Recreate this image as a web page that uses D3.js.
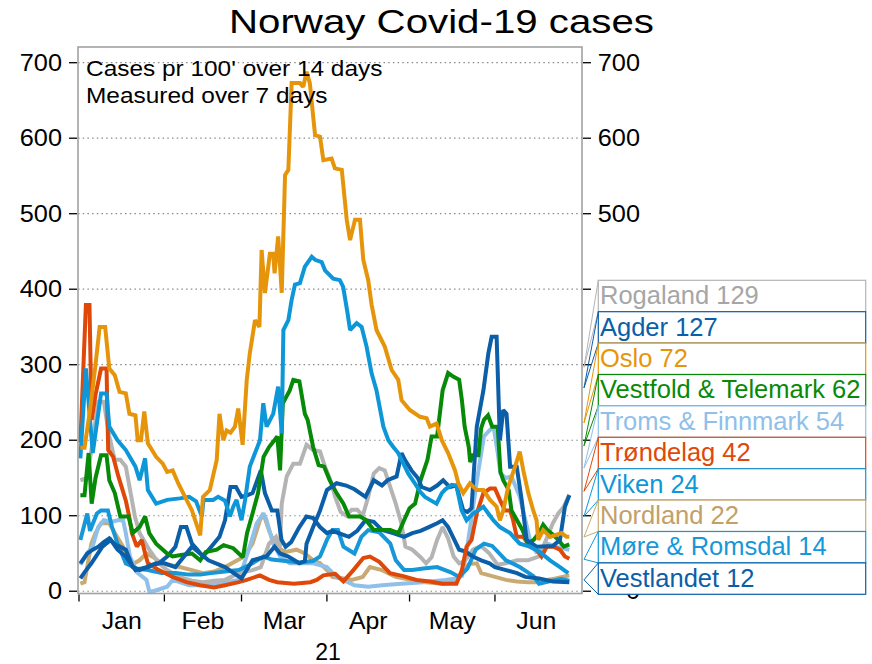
<!DOCTYPE html>
<html>
<head>
<meta charset="utf-8">
<script src="https://cdn.jsdelivr.net/npm/d3@7"></script>
<style>
  html, body { margin: 0; padding: 0; background: #fff; }
  svg { display: block; font-family: "Liberation Sans", Arial, sans-serif; }
</style>
</head>
<body>
<svg id="chart" width="872" height="664"></svg>
<script>
// ---- DATA: [day of 2021 (0 = 1 Jan), cases per 100k over 14 days] ----
const rogaland = [[0.5,147],[3,150],[5,200],[7,251],[9,251],[11,205],[13,174],[15,174],[17,165],[19,125],[20.3,99],[22,77],[25.5,55],[29,37],[32,28],[36.5,19],[41,14],[45,12],[49,14],[53,15],[58,24],[63,28],[66,32],[69,63],[71.5,72],[72.9,57],[73.6,116],[75.4,152],[77.8,169],[80.2,169],[82.6,194],[85,187],[87.5,185],[89.3,165],[91,150],[93,125],[95,105],[97,100],[99,108],[101,108],[103,100],[105,125],[107,156],[109,163],[111,160],[113,138],[115,116],[117,90],[118.5,59],[121,55],[124,45],[126,37],[128,45],[130,68],[132,85],[134,70],[136,46],[138,37],[140,40],[143,55],[146,60],[149,50],[152,35],[155,37],[159,41],[163,41],[167,46],[170,72],[172,90],[174,103],[176,112],[178,128]];
const agder = [[0.5,17],[2,25],[4.5,37],[8.5,59],[11.5,68],[14,55],[17,46],[20.5,28],[24.5,32],[28,37],[31,37],[35,32],[41,59],[47,41],[53,32],[59,17],[63,41],[68,46],[71,59],[73,50],[76,46],[80,37],[82,40],[82.6,63],[85,85],[87.5,107],[90,134],[93.5,143],[97,140],[100,135],[104,125],[107,147],[110,140],[112,147],[115.3,152],[117.1,183],[118.3,174],[120.7,160],[123,150],[124.4,138],[127.4,134],[130,140],[132.2,147],[134.6,138],[137,140],[139.5,107],[141,105],[142.5,110],[144.4,218],[146.8,266],[148.6,315],[149.8,337],[151.6,337],[152.8,200],[154,240],[155.2,235],[156.5,165],[158.9,165],[160.7,121],[162.5,68],[166.1,59],[172,60],[174.6,68],[176.4,112],[178,127]];
const oslo = [[0.5,190],[2,190],[4,240],[6,300],[7.5,350],[9.5,350],[11,295],[13,286],[14.7,264],[17,262],[18.3,235],[20.5,233],[21.3,200],[22.5,200],[23.7,238],[25,196],[28,178],[30.4,169],[32,158],[34,160],[36,143],[38.5,125],[41,107],[44,74],[45,125],[47.5,134],[50,174],[51,235],[52.4,200],[53.6,213],[55,210],[56.6,218],[57.8,242],[59.4,194],[60.9,280],[62,315],[63.9,359],[65.5,350],[66.3,452],[67.5,395],[69.3,447],[70.5,447],[71,421],[72.3,470],[73.6,395],[74.8,551],[76,558],[77.2,673],[80.2,673],[81.4,668],[82.6,688],[83.8,673],[85.7,604],[87.5,602],[88.7,571],[91.7,573],[92.9,560],[95.4,558],[97.2,492],[98.4,465],[100.2,492],[102,492],[103.2,439],[105,412],[106.2,380],[108,346],[111,324],[113.5,293],[115.9,280],[117.1,253],[120.1,240],[123.8,231],[126.2,229],[127.4,218],[129.8,222],[131.7,200],[134,183],[136.5,160],[137.7,143],[139.5,130],[141.9,143],[144.4,134],[146.8,134],[149.2,121],[151.6,112],[152.8,94],[154,107],[155.8,138],[158.3,165],[160,185],[161.3,160],[163.1,130],[164.9,107],[166.1,94],[166.7,68],[168.5,81],[171,72],[175.2,77],[177,72],[178,72]];
const vestfold = [[0.5,127],[2,127],[3.5,183],[4.6,116],[6,150],[8,180],[10,180],[11,147],[13,130],[15,99],[18,99],[19.5,77],[22,85],[24,99],[25.5,77],[28,63],[32,50],[34,46],[37,48],[41,50],[44,41],[46,52],[50,55],[52.5,61],[56,57],[58,50],[59.5,45],[61,77],[63,103],[65,130],[67,178],[69,191],[72,205],[73,160],[74,249],[76.5,266],[77.8,280],[80,278],[82,235],[83,227],[85,191],[87,167],[89,165],[91,147],[93.5,130],[96,116],[98,99],[100,99],[102,99],[104,95],[107,81],[110,81],[113,81],[116,77],[118,94],[120,110],[122,116],[124,147],[126.5,174],[128,205],[130,205],[132,266],[134,289],[136,284],[138,280],[139,253],[140,218],[141.5,191],[142,171],[143,180],[145,180],[146,216],[147,227],[148.5,233],[150,218],[152,218],[153,158],[154,147],[156,134],[157,107],[159,94],[161,81],[163,63],[165,68],[167,77],[168.5,88],[170,81],[172,75],[174,68],[176,59],[178,62]];
const troms = [[0.5,35],[3,50],[5,60],[7,85],[9,94],[12,92],[14,94],[16,94],[17,77],[18.5,46],[21,25],[24.5,15],[25.5,0],[27,0],[32,6],[34,15],[40,8],[46,8],[50,10],[58,15],[62,59],[64.5,90],[67,103],[68,95],[70.5,63],[73,46],[76.5,37],[80,37],[85,37],[90,32],[93.5,19],[100,8],[105,6],[110,8],[117,10],[125,12],[133,15],[137,17],[139,20],[141,60],[143,110],[145,160],[147,205],[149,213],[150.5,218],[152,183],[153,156],[155,150],[157,152],[160,125],[162,95],[164,63],[166,52],[168,55],[170,63],[173,59],[178,55]];
const trondelag = [[0.5,197],[2.5,379],[3.8,379],[4.6,227],[6,260],[8,295],[10,295],[10.6,187],[12.4,178],[14.3,152],[15.5,138],[17,120],[18,103],[19.2,77],[21,59],[22.8,68],[24,50],[25,37],[29,28],[34,19],[39,12],[44,8],[49,5],[53,8],[58,12],[60.9,15],[65.7,21],[69,15],[72,12],[78,10],[84,12],[86.3,15],[88.7,21],[93,23],[96,13],[99.6,28],[103.2,44],[105.6,46],[109,39],[112.9,24],[117.7,20],[122.5,15],[127.4,13],[132,10],[137,10],[139,28],[140.7,59],[142.5,68],[144.4,103],[146.8,130],[149.2,136],[151,136],[152.8,121],[154.6,107],[156.5,107],[157.6,94],[158.9,72],[161.3,72],[163.7,59],[166.1,55],[167.9,46],[169.8,59],[172.2,59],[174.6,55],[176.4,46],[178,43]];
const viken = [[0.5,176],[2.5,295],[5,183],[8,262],[10,262],[11,218],[14,200],[17,187],[20.5,165],[22,147],[24,176],[25,134],[28,116],[32,121],[36.6,123],[40,125],[42.5,119],[44.6,99],[45.2,121],[48.7,121],[50.5,125],[53,120],[54.8,99],[56,112],[57.2,121],[59,94],[60.3,121],[62,165],[63.9,183],[65.7,200],[66.9,249],[68.1,218],[70.5,235],[72.3,271],[73.6,209],[74.2,346],[76,359],[77.2,386],[78.4,406],[80.2,408],[82,430],[84.5,443],[85.7,439],[88.1,436],[89.3,425],[92.3,414],[94.7,412],[95.9,403],[97.5,368],[98.4,346],[100.8,355],[102.6,350],[104.4,324],[106.2,289],[108,266],[110.5,218],[112.3,200],[114.1,191],[115.9,183],[117.1,174],[119.5,156],[121.9,143],[123.8,132],[125.6,125],[127.4,121],[129.8,116],[131.7,130],[133,135],[135.3,141],[137,140],[138.9,107],[140.7,94],[143.1,103],[144.9,107],[146.8,112],[148.6,103],[150.4,94],[152.8,85],[156.5,77],[160,63],[163.7,59],[167.3,52],[171,41],[174.6,32],[177.6,24]];
const nordland = [[0.5,10],[2,12],[4.5,63],[6,77],[8,90],[11,90],[13,77],[16,59],[17,37],[19,35],[22,41],[24.5,50],[27,45],[30,37],[36.5,32],[41,28],[45,24],[49,26],[53,32],[56,38],[60,46],[63,63],[65.7,94],[66.9,103],[69,80],[71.5,59],[75,52],[79,55],[82,50],[85,41],[87.5,37],[90,28],[92,19],[96,17],[99,15],[103,19],[105.6,32],[110,28],[115,19],[121,15],[126,12],[132,10],[137,12],[139,24],[141.5,36],[144.4,37],[146,24],[150,20],[155,15],[159,13],[163,12],[167,12],[170,15],[173,17],[178,21]];
const more = [[0.5,68],[3,103],[4,80],[6.5,103],[8,107],[10.5,107],[12,85],[14,63],[17,37],[21,30],[25,28],[30,24],[35,24],[40,22],[44,22],[48,24],[53,26],[58,28],[62,35],[67,46],[70,42],[75,40],[80,38],[85,40],[87.5,46],[90,68],[92,81],[94,81],[96,59],[100,50],[102.5,72],[105,81],[109,78],[113,63],[115,41],[118,28],[121,28],[125,30],[130,32],[135,25],[138,19],[141,30],[144,55],[147,63],[150,60],[155,41],[160,32],[165,20],[167,10],[172,14],[175,16],[178,14]];
const vestlandet = [[0.5,37],[3,50],[5,55],[7,59],[9,65],[11,70],[13,62],[15,59],[17,55],[19.5,32],[22,28],[25,32],[29,37],[32,46],[35,59],[37,85],[39,85],[41,63],[43,55],[45,46],[48,59],[51,72],[53,94],[55,138],[57,138],[59,125],[61,127],[63,130],[66,160],[67.5,130],[70,107],[72,107],[73.5,68],[75,59],[77,65],[80,85],[82.6,99],[85,97],[87.5,85],[90,77],[92,80],[95,76],[98,72],[101,80],[104,94],[107,92],[110,81],[114,77],[118,72],[121,77],[124,80],[127,85],[130,90],[132,94],[134,85],[136,70],[138,55],[140,53],[143,46],[146,41],[149,37],[151,32],[155,28],[159,24],[162,19],[167,17],[172,13],[178,12]];

const regionNames = ["Rogaland","Agder","Oslo","Vestfold & Telemark","Troms & Finnmark","Trøndelag","Viken","Nordland","Møre & Romsdal","Vestlandet"];
const lastValues  = [129,127,72,62,54,42,24,22,14,12];
const lineColors  = ["#b4b4b4","#0b5ea8","#e6950a","#078a07","#8fc0ea","#df4808","#0e97d8","#c9aa72","#1698d8","#0b5ea8"];
const textColors  = ["#a6a6a6","#0b5ea8","#e6950a","#078a07","#8fc0ea","#df4808","#0e97d8","#c2a068","#1698d8","#0b5ea8"];
const seriesData  = [rogaland,agder,oslo,vestfold,troms,trondelag,viken,nordland,more,vestlandet];
const drawOrder   = [7,4,0,8,9,5,3,1,6,2];

const yTicks = [0,100,200,300,400,500,600,700];
const monthLabels = ["Jan","Feb","Mar","Apr","May","Jun"];
const yearLabel = "21";
const titleText = "Norway Covid-19 cases";
const noteLines = ["Cases pr 100' over 14 days","Measured over 7 days"];

// ---- LAYOUT ----
const DAY = 864e5;
const t0 = new Date(2021,0,1).getTime();
const toDate = d => new Date(t0 + d*DAY);
const plot = {left:78, right:582, top:47, bottom:593.5};

const svg = d3.select("#chart");
const x = d3.scaleTime()
  .domain([toDate(-0.36), toDate(182.6)])
  .range([plot.left, plot.right]);
const y = d3.scaleLinear()
  .domain([-3, 720.8])
  .range([plot.bottom, plot.top]);

function stretchedText(g, tx, ty, str, size, sx, anchor, fill) {
  return g.append("text")
    .attr("transform", `translate(${tx},${ty}) scale(${sx},1)`)
    .attr("text-anchor", anchor)
    .attr("font-size", size)
    .attr("fill", fill || "#000")
    .text(str);
}

// title
stretchedText(svg, 441.5, 33, titleText, 33, 1.22, "middle");

// grid
svg.append("g").selectAll("line").data(yTicks).join("line")
  .attr("x1", plot.left).attr("x2", plot.right)
  .attr("y1", d => y(d)).attr("y2", d => y(d))
  .attr("stroke", "#8a8a8a").attr("stroke-width", 1.2)
  .attr("stroke-dasharray", "1.5,3.2");

// lines
const lineGen = d3.line()
  .x(d => x(toDate(d[0])))
  .y(d => y(d[1]));
const clipId = "plotclip";
svg.append("clipPath").attr("id", clipId).append("rect")
  .attr("x", plot.left).attr("y", plot.top)
  .attr("width", plot.right - plot.left).attr("height", plot.bottom - plot.top);
const linesG = svg.append("g").attr("clip-path", `url(#${clipId})`);
drawOrder.forEach(i => {
  linesG.append("path")
    .datum(seriesData[i])
    .attr("d", lineGen)
    .attr("fill", "none")
    .attr("stroke", lineColors[i])
    .attr("stroke-width", 4)
    .attr("stroke-linejoin", "miter")
    .attr("stroke-miterlimit", 2);
});

// frame
svg.append("rect")
  .attr("x", plot.left).attr("y", plot.top)
  .attr("width", plot.right - plot.left).attr("height", plot.bottom - plot.top)
  .attr("fill", "none").attr("stroke", "#a2a2a2").attr("stroke-width", 1.6);

// left axis
const leftG = svg.append("g");
leftG.selectAll("line").data(yTicks).join("line")
  .attr("x1", 69).attr("x2", 77)
  .attr("y1", d => y(d)).attr("y2", d => y(d))
  .attr("stroke", "#000").attr("stroke-width", 1.3);
yTicks.forEach(t => stretchedText(leftG, 62, y(t) + 8.2, String(t), 23, 1.1, "end"));

// legend geometry
const box = {x0: 598.3, x1: 865.7, top: 280.3, h: 31.4};

// right axis (labels that fall under the legend boxes are hidden by them in the reference)
const rightG = svg.append("g");
rightG.selectAll("line").data(yTicks).join("line")
  .attr("x1", 583).attr("x2", 591)
  .attr("y1", d => y(d)).attr("y2", d => y(d))
  .attr("stroke", "#000").attr("stroke-width", 1.3);
yTicks.filter(t => y(t) < box.top - 10 || y(t) > box.top + 10 * box.h - 8)
  .forEach(t => stretchedText(rightG, 640, y(t) + 8.2, String(t), 23, 1.1, "end"));

// bottom axis
const monthStarts = d3.range(0, 6).map(m => new Date(2021, m, 1));
const botG = svg.append("g");
botG.selectAll("line").data(monthStarts).join("line")
  .attr("x1", d => x(d)).attr("x2", d => x(d))
  .attr("y1", plot.bottom + 1).attr("y2", plot.bottom + 8)
  .attr("stroke", "#000").attr("stroke-width", 1.3);
monthStarts.forEach((d, i) => {
  const mid = new Date((d.getTime() + new Date(2021, i + 1, 1).getTime()) / 2);
  stretchedText(botG, x(mid), 628.5, monthLabels[i], 23, 1.08, "middle");
});
stretchedText(botG, 328, 660, yearLabel, 23, 1.0, "middle");

// note
noteLines.forEach((s, i) => stretchedText(svg, 86, 76 + i * 27.3, s, 22, 1.11, "start"));

// legend boxes with pointers
const legG = svg.append("g");
regionNames.forEach((name, i) => {
  const top = box.top + i * box.h;
  const bot = top + box.h;
  const cy = (top + bot) / 2;
  const py = cy + 0.36 * (y(lastValues[i]) - cy);
  legG.append("rect")
    .attr("x", box.x0).attr("y", top)
    .attr("width", box.x1 - box.x0).attr("height", box.h)
    .attr("fill", "#fff").attr("stroke", lineColors[i]).attr("stroke-width", 1.2);
  legG.append("polyline")
    .attr("points", `${box.x0},${top} 584,${py} ${box.x0},${bot}`)
    .attr("fill", "none").attr("stroke", lineColors[i]).attr("stroke-width", 1);
  stretchedText(legG, 600, top + 23.8, `${name} ${lastValues[i]}`, 25.5, 1.0, "start", textColors[i]);
});
</script>
</body>
</html>
